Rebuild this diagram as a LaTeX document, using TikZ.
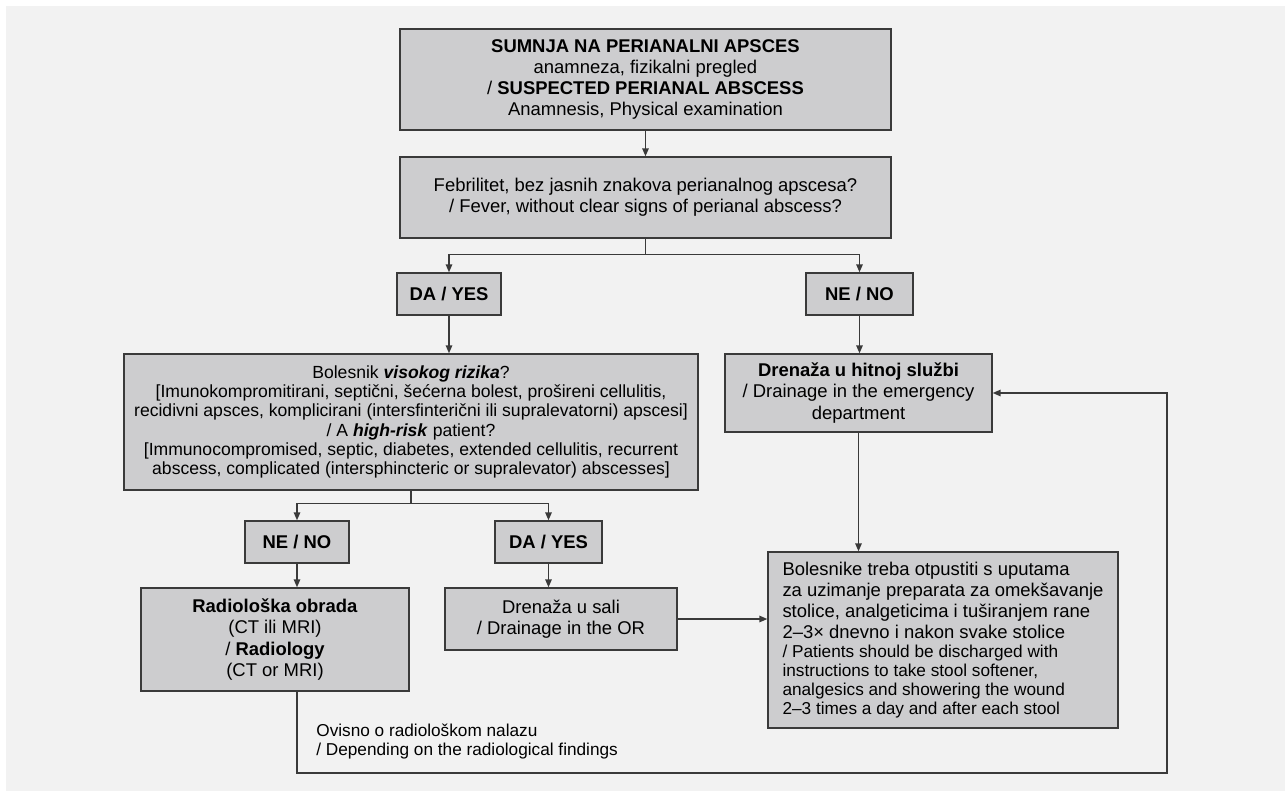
\documentclass[tikz,border=0pt]{standalone}
\usepackage{fontspec}
\setmainfont{Liberation Sans}
\usepackage{xcolor}
\usepackage{tikz}
\usetikzlibrary{arrows.meta}

\definecolor{panelgray}{HTML}{F2F2F2}
\definecolor{boxgray}{HTML}{CDCDCF}
\definecolor{linegray}{HTML}{3A3A3A}
\newcommand{\engfont}{\fontsize{9.8}{11}\selectfont}

\begin{document}
\begin{tikzpicture}[x=0.02cm,y=-0.02cm,
		box/.style={draw=linegray,fill=boxgray,line width=0.8pt,align=center,inner sep=0pt,font=\fontsize{10.5}{12}\selectfont},
		line/.style={draw=linegray,line width=0.8pt,-{Triangle[length=1.6mm,width=1.3mm]}},
		note/.style={anchor=north west,align=left,inner sep=0pt,font=\fontsize{9.8}{10.4}\selectfont}]
		\useasboundingbox (0,0) rectangle (1285,791);
		\fill[white] (0,0) rectangle (1285,791);
		\fill[panelgray] (6,6) rectangle (1285,791);
		
		\draw (645.5,79.5) node[box,minimum width=9.82cm,minimum height=2.02cm] (top) {\textbf{SUMNJA NA PERIANALNI APSCES}\\anamneza, fizikalni pregled\\/ \textbf{SUSPECTED PERIANAL ABSCESS}\\Anamnesis, Physical examination};
		\draw (645.5,197.5) node[box,minimum width=9.82cm,minimum height=1.62cm] (febr) {Febrilitet, bez jasnih znakova perianalnog apscesa?\\/ Fever, without clear signs of perianal abscess?};
		
		\draw (449,294) node[box,minimum width=2.08cm,minimum height=0.84cm] (yes1) {\textbf{DA / YES}};
		\draw (859.5,294) node[box,minimum width=2.14cm,minimum height=0.84cm] (no1) {\textbf{NE / NO}};
		
		\draw (411,422) node[box,minimum width=11.48cm,minimum height=2.72cm,font=\fontsize{10}{10.9}\selectfont] (risk) {Bolesnik \textbf{\textit{visokog rizika}}?\\{}[Imunokompromitirani, septični, šećerna bolest, prošireni cellulitis,\\recidivni apsces, komplicirani (intersfinterični ili supralevatorni) apscesi]\\/ A \textbf{\textit{high-risk}} patient?\\{}[Immunocompromised, septic, diabetes, extended cellulitis, recurrent\\abscess, complicated (intersphincteric or supralevator) abscesses]};
		\draw (858.5,393) node[box,minimum width=5.34cm,minimum height=1.56cm] (hitna) {\textbf{Drenaža u hitnoj službi}\\/ Drainage in the emergency\\department};
		
		\draw (297,542) node[box,minimum width=2.08cm,minimum height=0.84cm] (no2) {\textbf{NE / NO}};
		\draw (548.5,542) node[box,minimum width=2.14cm,minimum height=0.84cm] (yes2) {\textbf{DA / YES}};
		
		\draw (275,639.5) node[box,minimum width=5.36cm,minimum height=2.06cm] (radio) {\textbf{Radiološka obrada}\\(CT ili MRI)\\/ \textbf{Radiology}\\(CT or MRI)};
		\draw (561,619) node[box,minimum width=4.64cm,minimum height=1.24cm] (sala) {Drenaža u sali\\/ Drainage in the OR};
		\draw (943,640) node[box,minimum width=7cm,minimum height=3.52cm,align=left] (disch) {Bolesnike treba otpustiti s uputama\\za uzimanje preparata za omekšavanje\\stolice, analgeticima i tuširanjem rane\\2--3× dnevno i nakon svake stolice\\[-1.2pt]{\engfont / Patients should be discharged with}\\[-1.2pt]{\engfont instructions to take stool softener,}\\[-1.2pt]{\engfont analgesics and showering the wound}\\[-1.2pt]{\engfont 2--3 times a day and after each stool}};
		
		\draw (316,724) node[note] (depend) {Ovisno o radiološkom nalazu\\/ Depending on the radiological findings};
		\coordinate (loop) at (1167,773);
		
		\draw[line] (top.south) -- (febr.north);
		\draw[line] (febr.south) -- ++(0,16) -| (yes1.north);
		\draw[line] (febr.south) -- ++(0,16) -| (no1.north);
		\draw[line] (yes1.south) -- (yes1.south |- risk.north);
		\draw[line] (no1.south) -- (no1.south |- hitna.north);
		\draw[line] (risk.south) -- ++(0,13) -| (no2.north);
		\draw[line] (risk.south) -- ++(0,13) -| (yes2.north);
		\draw[line] (no2.south) -- (no2.south |- radio.north);
		\draw[line] (yes2.south) -- (yes2.south |- sala.north);
		\draw[line] (sala.east) -- (sala.east -| disch.west);
		\draw[line] (hitna.south) -- (hitna.south |- disch.north);
		\draw[line] (no2.south |- radio.south) |- (loop) |- (hitna.east);
	\end{tikzpicture}
\end{document}
